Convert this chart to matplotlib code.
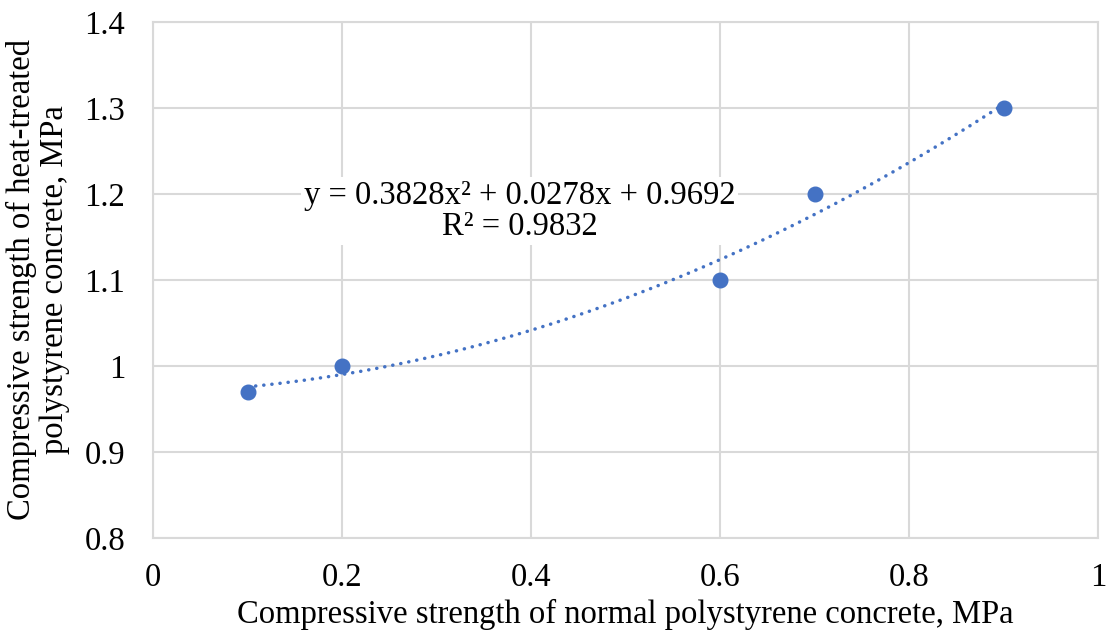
import numpy as np
import matplotlib.pyplot as plt

# data
x_normal = [0.1, 0.2, 0.6, 0.7, 0.9]
y_heat = [0.97, 1.0, 1.1, 1.2, 1.3]
# trendline coefficients shown on the chart
coef = [0.3828, 0.0278, 0.9692]
r2 = 0.9832
x_ticks = [0, 0.2, 0.4, 0.6, 0.8, 1]
x_tick_labels = ['0', '0.2', '0.4', '0.6', '0.8', '1']
y_ticks = [0.8, 0.9, 1.0, 1.1, 1.2, 1.3, 1.4]
y_tick_labels = ['0.8', '0.9', '1', '1.1', '1.2', '1.3', '1.4']

plt.rcParams['font.family'] = ['Liberation Serif', 'DejaVu Serif']

blue = '#4472C4'
grid_c = '#D9D9D9'
fs = 23.5

fig = plt.figure(figsize=(11.06, 6.32), dpi=100)
ax = fig.add_axes([153/1106, 1 - 538/632, (1098-153)/1106, (538-22)/632])

# trendline
xt = np.linspace(min(x_normal), max(x_normal), 200)
yt = np.polyval(coef, xt)
ax.plot(xt, yt, color=blue, lw=2.5, linestyle=(0, (0.05, 2.3)),
        dash_capstyle='round', zorder=3)

ax.plot(x_normal, y_heat, 'o', color=blue, markersize=10.5, zorder=4)

ax.set_xlim(0, 1)
ax.set_ylim(0.8, 1.4)
ax.set_xticks(x_ticks)
ax.set_xticklabels(x_tick_labels)
ax.set_yticks(y_ticks)
ax.set_yticklabels(y_tick_labels)
ax.tick_params(axis='both', length=0, labelsize=fs)
ax.tick_params(axis='x', pad=18)
ax.tick_params(axis='y', pad=20)

ax.grid(True, color=grid_c, lw=1.5, zorder=0)
ax.set_axisbelow(True)
for s in ax.spines.values():
    s.set_color(grid_c)
    s.set_linewidth(1.5)

ax.set_xlabel('Compressive strength of normal polystyrene concrete, MPa',
              fontsize=fs, labelpad=4)
ax.set_ylabel('Compressive strength of heat-treated\npolystyrene concrete, MPa',
              fontsize=fs, labelpad=10, linespacing=1.12)

eq = 'y = %.4fx² + %.4fx + %.4f\nR² = %.4f' % (coef[0], coef[1], coef[2], r2)
ax.text(0.388, 1.18, eq, fontsize=fs, ha='center', va='center',
        linespacing=1.05, zorder=5,
        bbox=dict(facecolor='white', edgecolor='none', pad=2))

fig.savefig('out.png', dpi=100)
